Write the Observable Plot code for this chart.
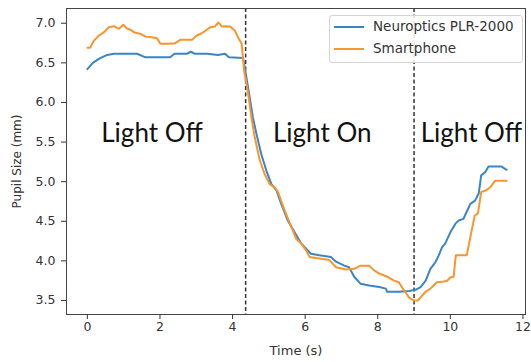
<!DOCTYPE html>
<html>
<head>
<meta charset="utf-8">
<script src="https://cdn.jsdelivr.net/npm/d3@7"></script>
<script src="https://cdn.jsdelivr.net/npm/@observablehq/plot@0.6"></script>
<style>
  html, body { margin: 0; padding: 0; background: #fff; }
  #wrap { position: relative; width: 531px; height: 362px; }
  #legend {
    position: absolute; left: 329px; top: 15px; width: 192px; height: 46px;
    border: 1px solid #d4d4d4; border-radius: 3px; background: rgba(255,255,255,0.85);
    font-family: "DejaVu Sans", sans-serif; font-size: 13.5px; color: #333;
  }
  #legend .row { position: absolute; left: 0; height: 20px; width: 100%; }
  #legend .sw { position: absolute; left: 4px; top: 9px; width: 30px; height: 0; border-top: 2px solid; }
  #legend .lb { position: absolute; left: 43px; top: 1px; white-space: nowrap; }
</style>
</head>
<body>
<div id="wrap"><div id="legend"></div></div>
<script>
const seriesNames = ["Neuroptics PLR-2000", "Smartphone"];
const seriesColors = ["#3a86c4", "#f7952f"];

const neuropticsTime = [0, 0.15, 0.35, 0.55, 0.73, 1.0, 1.37, 1.6, 1.8, 2.28, 2.4, 2.74, 2.85, 2.95, 3.3, 3.6, 3.79, 3.9, 4.29,
  4.38, 4.47, 4.56, 4.66, 4.79, 4.93, 5.07, 5.21, 5.34, 5.52, 5.71, 5.89, 6.16, 6.39, 6.71, 6.85, 7.08, 7.21, 7.35, 7.53, 7.76,
  8.04, 8.22, 8.26, 8.58, 8.86, 9.04, 9.18, 9.32, 9.45, 9.59, 9.68, 9.77, 9.86, 10.0, 10.14, 10.23, 10.36, 10.45, 10.55, 10.68,
  10.78, 10.85, 10.96, 11.05, 11.41, 11.55];
const neuropticsPupil = [6.42, 6.5, 6.56, 6.6, 6.615, 6.615, 6.615, 6.57, 6.57, 6.57, 6.615, 6.615, 6.64, 6.615, 6.615, 6.6, 6.615, 6.57, 6.56,
  6.32, 6.07, 5.81, 5.6, 5.35, 5.14, 4.97, 4.89, 4.72, 4.51, 4.36, 4.22, 4.09, 4.07, 4.05, 3.99, 3.94, 3.92, 3.8, 3.71, 3.69,
  3.67, 3.65, 3.61, 3.61, 3.62, 3.635, 3.67, 3.75, 3.9, 3.985, 4.07, 4.17, 4.22, 4.36, 4.47, 4.51, 4.53, 4.62, 4.72, 4.76,
  4.85, 5.08, 5.12, 5.19, 5.19, 5.15];

const smartphoneTime = [0, 0.07, 0.18, 0.32, 0.46, 0.59, 0.73, 0.87, 0.99, 1.1, 1.19, 1.32, 1.46, 1.6, 1.78, 1.92, 2.01, 2.24, 2.42,
  2.56, 2.88, 3.01, 3.15, 3.29, 3.38, 3.52, 3.61, 3.7, 3.84, 3.93, 4.06, 4.15, 4.25, 4.32, 4.43, 4.52, 4.61, 4.75, 4.88, 5.02,
  5.16, 5.25, 5.43, 5.62, 5.75, 5.89, 6.03, 6.12, 6.39, 6.67, 6.85, 7.12, 7.35, 7.53, 7.76, 7.9, 8.04, 8.26, 8.45, 8.58, 8.72,
  8.86, 8.99, 9.11, 9.22, 9.32, 9.45, 9.54, 9.63, 9.82, 9.91, 10.0, 10.09, 10.15, 10.45, 10.55, 10.67, 10.76, 10.85, 10.98,
  11.1, 11.23, 11.55];
const smartphonePupil = [6.69, 6.69, 6.78, 6.845, 6.887, 6.95, 6.963, 6.93, 6.98, 6.93, 6.917, 6.879, 6.867, 6.833, 6.824, 6.81, 6.74, 6.74, 6.748,
  6.79, 6.79, 6.845, 6.874, 6.917, 6.95, 6.959, 7.01, 6.959, 6.963, 6.959, 6.908, 6.824, 6.74, 6.4, 6.11, 5.81, 5.56, 5.27, 5.1, 4.97,
  4.93, 4.87, 4.64, 4.43, 4.28, 4.22, 4.13, 4.05, 4.03, 4.01, 3.92, 3.89, 3.9, 3.94, 3.94, 3.88, 3.84, 3.8, 3.75, 3.73, 3.63,
  3.54, 3.5, 3.5, 3.56, 3.61, 3.65, 3.69, 3.73, 3.74, 3.75, 3.79, 3.8, 4.07, 4.07, 4.3, 4.57, 4.6, 4.87, 4.89,
  4.93, 5.01, 5.01];

const lightChangeTimes = [4.36, 9.0];
const phaseLabels = ["Light Off", "Light On", "Light Off"];
const phaseCenters = [1.78, 6.47, 10.58];
const phaseLabelLevel = 5.6;

const xTicks = [0, 2, 4, 6, 8, 10, 12];
const yTicks = [3.5, 4.0, 4.5, 5.0, 5.5, 6.0, 6.5, 7.0];

const rows = [
  ...neuropticsTime.map((t, i) => ({time: t, pupil: neuropticsPupil[i], series: seriesNames[0]})),
  ...smartphoneTime.map((t, i) => ({time: t, pupil: smartphonePupil[i], series: seriesNames[1]}))
];
const phases = phaseLabels.map((label, i) => ({label, x: phaseCenters[i], y: phaseLabelLevel}));

const chart = Plot.plot({
  width: 531,
  height: 362,
  marginLeft: 66,
  marginRight: 6,
  marginTop: 8,
  marginBottom: 48,
  style: {fontFamily: "DejaVu Sans, sans-serif", fontSize: "12px", color: "#333", background: "#fff"},
  x: {domain: [-0.575, 12.07]},
  y: {domain: [3.323, 7.186]},
  color: {domain: seriesNames, range: seriesColors},
  marks: [
    Plot.ruleX(lightChangeTimes, {stroke: "#333", strokeWidth: 1.5, strokeDasharray: "4,2.5"}),
    Plot.line(rows, {x: "time", y: "pupil", stroke: "series", strokeWidth: 2, strokeLinejoin: "round"}),
    Plot.text(phases, {x: "x", y: "y", text: "label", fontFamily: "Lato, sans-serif", fontSize: 26, fill: "#111", textAnchor: "middle", lineAnchor: "middle"}),
    Plot.frame({stroke: "#444", strokeWidth: 1}),
    Plot.axisX({ticks: xTicks, tickSize: 5, tickPadding: 3, fontSize: 12.5, tickFormat: d => String(d), label: null}),
    Plot.axisX({ticks: [], tickSize: 0, fontSize: 13, label: "Time (s)", labelAnchor: "center", labelArrow: "none", labelOffset: 40}),
    Plot.axisY({ticks: yTicks, tickSize: 5, tickPadding: 6, fontSize: 12.5, tickFormat: d3.format(".1f"), label: null}),
    Plot.axisY({ticks: [], tickSize: 0, fontSize: 12, label: "Pupil Size (mm)", labelAnchor: "center", labelArrow: "none", labelOffset: 54})
  ]
});

const wrap = document.getElementById("wrap");
wrap.insertBefore(chart, wrap.firstChild);

const legend = document.getElementById("legend");
seriesNames.forEach((name, i) => {
  const row = document.createElement("div");
  row.className = "row";
  row.style.top = (1 + i * 21.5) + "px";
  const sw = document.createElement("div");
  sw.className = "sw";
  sw.style.borderTopColor = seriesColors[i];
  const lb = document.createElement("div");
  lb.className = "lb";
  lb.textContent = name;
  row.appendChild(sw);
  row.appendChild(lb);
  legend.appendChild(row);
});
</script>
</body>
</html>
